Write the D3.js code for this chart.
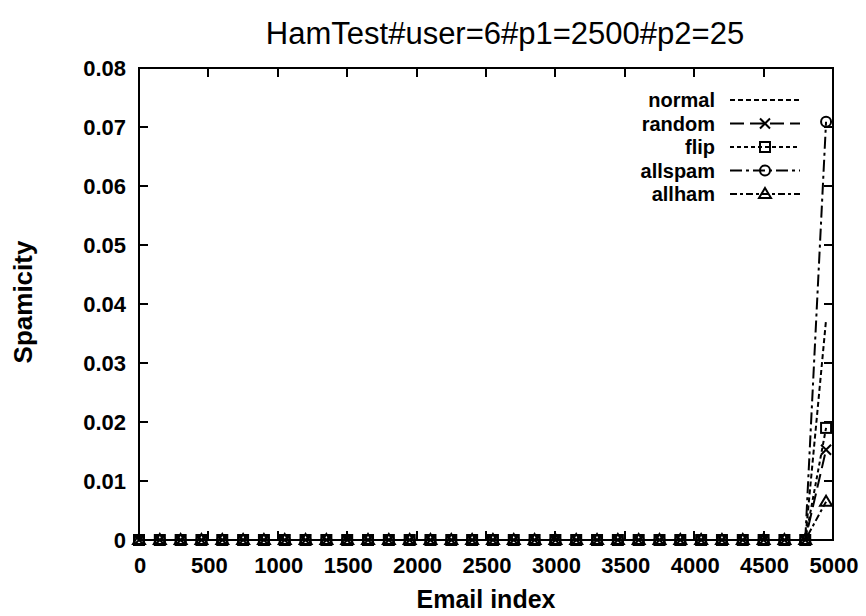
<!DOCTYPE html>
<html>
<head>
<meta charset="utf-8">
<script src="https://cdn.jsdelivr.net/npm/d3@7"></script>
<style>
  body { margin: 0; background: #fff; }
  svg { display: block; }
  text { font-family: "Liberation Sans", Arial, sans-serif; fill: #000; }
</style>
</head>
<body>
<svg id="chart" width="866" height="616"></svg>
<script>
// data
var emailIndex = [0,150,300,450,600,750,900,1050,1200,1350,1500,1650,1800,1950,2100,2250,
  2400,2550,2700,2850,3000,3150,3300,3450,3600,3750,3900,4050,4200,4350,4500,4650,4800,4950];
var normal  = [0,0,0,0,0,0,0,0,0,0,0,0,0,0,0,0,0,0,0,0,0,0,0,0,0,0,0,0,0,0,0,0,0,0.0373];
var random  = [0,0,0,0,0,0,0,0,0,0,0,0,0,0,0,0,0,0,0,0,0,0,0,0,0,0,0,0,0,0,0,0,0,0.0153];
var flip    = [0,0,0,0,0,0,0,0,0,0,0,0,0,0,0,0,0,0,0,0,0,0,0,0,0,0,0,0,0,0,0,0,0,0.019];
var allspam = [0,0,0,0,0,0,0,0,0,0,0,0,0,0,0,0,0,0,0,0,0,0,0,0,0,0,0,0,0,0,0,0,0,0.0709];
var allham  = [0,0,0,0,0,0,0,0,0,0,0,0,0,0,0,0,0,0,0,0,0,0,0,0,0,0,0,0,0,0,0,0,0,0.0065];
var xTicks = [0,500,1000,1500,2000,2500,3000,3500,4000,4500,5000];
var yTicks = [0,0.01,0.02,0.03,0.04,0.05,0.06,0.07,0.08];

var series = [
  {name: "normal",  values: normal,  dash: "5,3",        point: null},
  {name: "random",  values: random,  dash: "14,6",       point: "cross"},
  {name: "flip",    values: flip,    dash: "4,3",        point: "square"},
  {name: "allspam", values: allspam, dash: "12,4,3,4",   point: "circle"},
  {name: "allham",  values: allham,  dash: "7,3,3,3",    point: "triangle"}
];

var svg = d3.select("#chart");
var pLeft = 139, pRight = 833, pTop = 68, pBottom = 540;

var xScale = d3.scaleLinear().domain([0, 5000]).range([pLeft, pRight]);
var yScale = d3.scaleLinear().domain([0, 0.08]).range([pBottom, pTop]);

// title
svg.append("text")
  .attr("x", 505).attr("y", 44)
  .attr("text-anchor", "middle")
  .style("font-size", "31px")
  .text("HamTest#user=6#p1=2500#p2=25");

// ticks (inward, mirrored)
var tl = 9;
var g = svg.append("g").attr("stroke", "#000").attr("stroke-width", 2).attr("shape-rendering", "crispEdges");
yTicks.forEach(function(t){
  g.append("line").attr("x1", pLeft).attr("x2", pLeft + tl).attr("y1", yScale(t)).attr("y2", yScale(t));
  g.append("line").attr("x1", pRight).attr("x2", pRight - tl).attr("y1", yScale(t)).attr("y2", yScale(t));
});
xTicks.forEach(function(t){
  g.append("line").attr("y1", pBottom).attr("y2", pBottom - tl).attr("x1", xScale(t)).attr("x2", xScale(t));
  g.append("line").attr("y1", pTop).attr("y2", pTop + tl).attr("x1", xScale(t)).attr("x2", xScale(t));
});

// tick labels
svg.selectAll(".ylab").data(yTicks).enter().append("text")
  .attr("x", 126).attr("y", function(d){ return yScale(d) + 8; })
  .attr("text-anchor", "end")
  .style("font-size", "22px").style("font-weight", "bold")
  .text(function(d){ return d === 0 ? "0" : d3.format(".2f")(d); });
svg.selectAll(".xlab").data(xTicks).enter().append("text")
  .attr("x", function(d){ return xScale(d) + 1; }).attr("y", 573)
  .attr("text-anchor", "middle")
  .style("font-size", "22px").style("font-weight", "bold")
  .text(function(d){ return d; });

// axis titles
svg.append("text")
  .attr("x", 486).attr("y", 608)
  .attr("text-anchor", "middle")
  .style("font-size", "25px").style("font-weight", "bold")
  .text("Email index");
svg.append("text")
  .attr("transform", "translate(32,302) rotate(-90)")
  .attr("text-anchor", "middle")
  .style("font-size", "26px").style("font-weight", "bold")
  .text("Spamicity");

// markers
function drawPoint(sel, type, x, y) {
  var p = sel.append("g").attr("transform", "translate(" + x + "," + y + ")")
    .attr("fill", "none").attr("stroke", "#000").attr("stroke-width", 2);
  if (type === "cross") {
    p.append("path").attr("d", "M-5,-5L5,5M-5,5L5,-5");
  } else if (type === "square") {
    p.append("rect").attr("x", -5).attr("y", -5).attr("width", 10).attr("height", 10);
  } else if (type === "circle") {
    p.append("circle").attr("r", 5);
  } else if (type === "triangle") {
    p.append("path").attr("d", "M0,-6L6,4L-6,4Z");
  }
}

var line = d3.line()
  .x(function(d, i){ return xScale(emailIndex[i]); })
  .y(function(d){ return yScale(d); });

var plot = svg.append("g");
series.forEach(function(s){
  plot.append("path")
    .attr("d", line(s.values))
    .attr("fill", "none")
    .attr("stroke", "#000")
    .attr("stroke-width", 2)
    .attr("stroke-dasharray", s.dash);
  if (s.point) {
    s.values.forEach(function(v, i){
      drawPoint(plot, s.point, xScale(emailIndex[i]), yScale(v));
    });
  }
});

// border
svg.append("rect")
  .attr("x", pLeft).attr("y", pTop)
  .attr("width", pRight - pLeft).attr("height", pBottom - pTop)
  .attr("fill", "none").attr("stroke", "#000").attr("stroke-width", 2)
  .attr("shape-rendering", "crispEdges");

// legend
var legY = 100, legStep = 23.5;
series.forEach(function(s, i){
  var y = legY + i * legStep;
  svg.append("text")
    .attr("x", 715).attr("y", y + 7)
    .attr("text-anchor", "end")
    .style("font-size", "20px").style("font-weight", "bold")
    .text(s.name);
  svg.append("line")
    .attr("x1", 730).attr("x2", 800).attr("y1", y).attr("y2", y)
    .attr("stroke", "#000").attr("stroke-width", 2)
    .attr("stroke-dasharray", s.dash);
  if (s.point) drawPoint(svg, s.point, 765, y);
});
</script>
</body>
</html>
